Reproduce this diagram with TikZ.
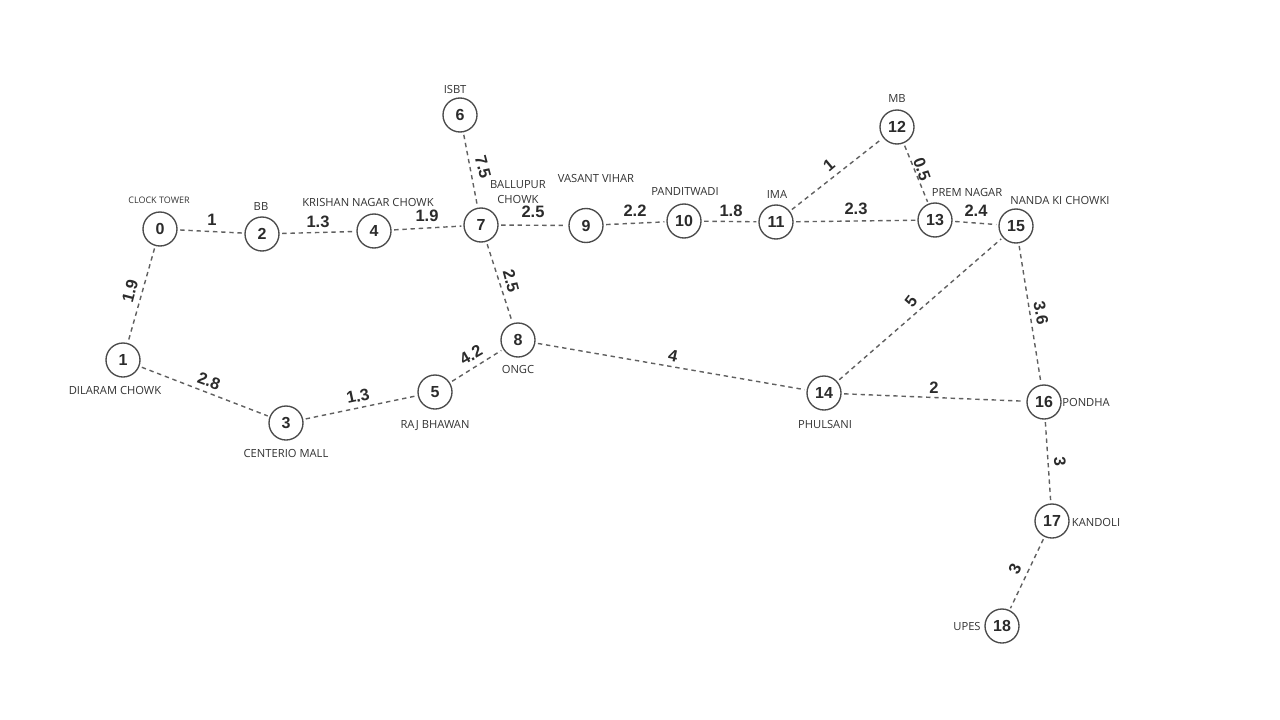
\documentclass[tikz,border=0pt]{standalone}
\usepackage{fontspec}
\setmainfont{Liberation Sans}
\newfontfamily\placefont{Open Sans}
\definecolor{inkc}{HTML}{2B2B2B}
\definecolor{edgec}{HTML}{606060}
\tikzset{
  vertex/.style={circle,draw=inkc!85,line width=1.35pt,minimum size=34pt,inner sep=0pt,fill=white,text=inkc,font=\fontsize{16}{16}\selectfont\bfseries},
  edge/.style={draw=edgec,line width=1.4pt,dash pattern=on 4.4pt off 3.8pt,shorten >=2pt,shorten <=2.5pt},
  place/.style={inner sep=0pt,text=black!80,font=\placefont\fontsize{11.2}{15}\selectfont,align=center},
  smallplace/.style={place,font=\placefont\fontsize{9}{12}\selectfont},
  weight/.style={inner sep=0pt,text=inkc,font=\fontsize{16.5}{17}\selectfont\bfseries}
}
\begin{document}
\begin{tikzpicture}[x=1pt,y=-1pt]
\useasboundingbox (0,0) rectangle (1280,720);
\fill[white] (0,0) rectangle (1280,720);
% vertices
\node[vertex] (n0) at (160,229) {0};
\node[vertex] (n1) at (123,360) {1};
\node[vertex] (n2) at (262,234) {2};
\node[vertex] (n3) at (286,423) {3};
\node[vertex] (n4) at (374,231) {4};
\node[vertex] (n5) at (435,392) {5};
\node[vertex] (n6) at (460,115) {6};
\node[vertex] (n7) at (481,225) {7};
\node[vertex] (n8) at (518,340) {8};
\node[vertex] (n9) at (586,225.5) {9};
\node[vertex] (n10) at (684,221) {10};
\node[vertex] (n11) at (776,222) {11};
\node[vertex] (n12) at (897,127) {12};
\node[vertex] (n13) at (935,220) {13};
\node[vertex] (n14) at (824,393) {14};
\node[vertex] (n15) at (1016,226) {15};
\node[vertex] (n16) at (1044,402) {16};
\node[vertex] (n17) at (1052,521) {17};
\node[vertex] (n18) at (1002,626) {18};
% connectors
\foreach \a/\b in {0/2,0/1,1/3,2/4,3/5,4/7,5/8,6/7,7/8,7/9,8/14,9/10,10/11,11/12,11/13,12/13,13/15,14/15,14/16,15/16,16/17,17/18}
  \draw[edge] (n\a) -- (n\b);
% place names
\node[smallplace] (p0) at (159,200.5) {CLOCK TOWER};
\node[place] (p1) at (115,390.5) {DILARAM CHOWK};
\node[place] (p2) at (261,206.5) {BB};
\node[place] (p3) at (286,453.5) {CENTERIO MALL};
\node[place] (p4) at (368,202.5) {KRISHAN NAGAR CHOWK};
\node[place] (p5) at (435,425.5) {RAJ BHAWAN};
\node[place] (p6) at (455,89.5) {ISBT};
\node[place] (p7) at (518,192.5) {BALLUPUR\\CHOWK};
\node[place] (p8) at (518,369.5) {ONGC};
\node[place] (p9) at (596,178.5) {VASANT VIHAR};
\node[place] (p10) at (685,191.5) {PANDITWADI};
\node[place] (p11) at (777,194.5) {IMA};
\node[place] (p12) at (897,98.5) {MB};
\node[place] (p13) at (967,192.5) {PREM NAGAR};
\node[place] (p14) at (825,424.5) {PHULSANI};
\node[place] (p15) at (1060,200.5) {NANDA KI CHOWKI};
\node[place] (p16) at (1086,402.5) {PONDHA};
\node[place] (p17) at (1096,522.5) {KANDOLI};
\node[place] (p18) at (967,626.5) {UPES};
% weights
\node[weight] (w1) at (212,220) {1};
\node[weight] (w2) at (318,222) {1.3};
\node[weight] (w3) at (427,216) {1.9};
\node[weight] (w4) at (533,212) {2.5};
\node[weight] (w5) at (635,211) {2.2};
\node[weight] (w6) at (731,211) {1.8};
\node[weight] (w7) at (856,209) {2.3};
\node[weight] (w8) at (976,211) {2.4};
\node[weight,rotate=40] (w9) at (829,165) {1};
\node[weight,rotate=-70] (w10) at (922,169) {0.5};
\node[weight,rotate=52] (w11) at (911,301) {5};
\node[weight,rotate=-80] (w12) at (1041,313) {3.6};
\node[weight,rotate=-75] (w13) at (511,281) {2.5};
\node[weight,rotate=-75] (w14) at (483,167) {7.5};
\node[weight,rotate=75] (w15) at (130,291) {1.9};
\node[weight,rotate=-20] (w16) at (209,381) {2.8};
\node[weight,rotate=12] (w17) at (358,396) {1.3};
\node[weight,rotate=30] (w18) at (471,355) {4.2};
\node[weight,rotate=-12] (w19) at (673,356) {4};
\node[weight] (w20) at (934,388) {2};
\node[weight,rotate=-85] (w21) at (1060,462) {3};
\node[weight,rotate=65] (w22) at (1015,569) {3};
\end{tikzpicture}
\end{document}
